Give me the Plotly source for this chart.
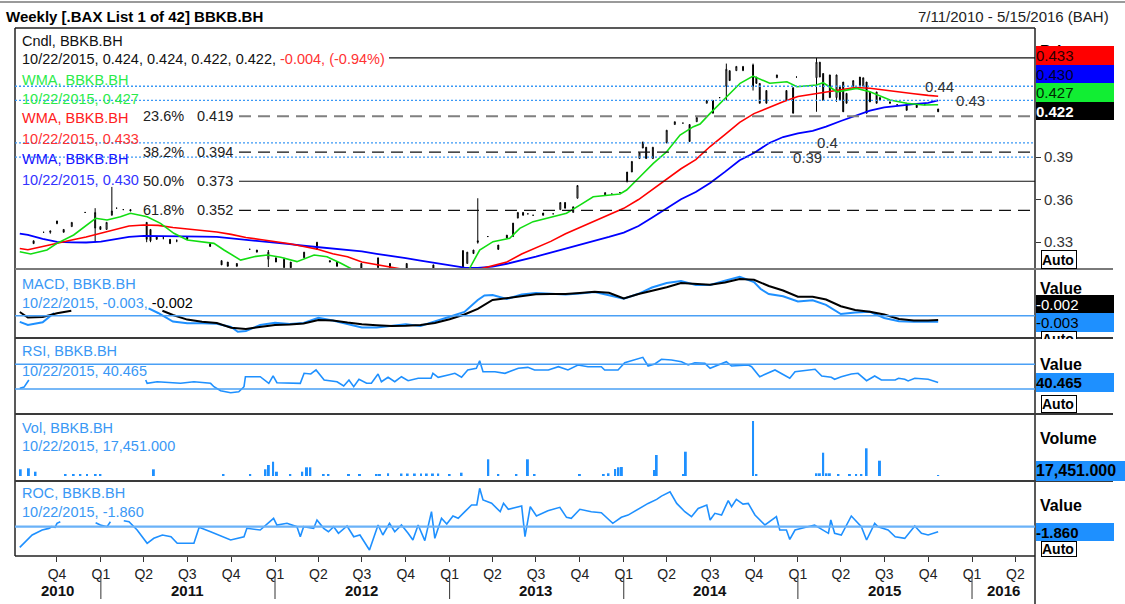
import plotly.graph_objects as go
from plotly.subplots import make_subplots

W, H = 1125, 604
FONT = "Liberation Sans, Arial, sans-serif"

# ---------------- text ----------------
title_left = "Weekly [.BAX List 1 of 42] BBKB.BH"
title_right = "7/11/2010 - 5/15/2016 (BAH)"
symbol = "BBKB.BH"
last_date = "10/22/2015"
last_ohlc = [0.424, 0.424, 0.422, 0.422]
last_change = -0.004
last_change_pct = -0.94

# ---------------- moving averages (monthly readings) ----------------
wma_dates = ['2010-07-15'] + [f'{y}-{m:02d}-01' for y in range(2010, 2016) for m in range(1, 13)
                              if '2010-08' <= f'{y}-{m:02d}' <= '2015-10'] + ['2015-10-22']
wma_long = [0.3361, 0.3351, 0.3324, 0.3303, 0.3299, 0.3298,
            0.3304, 0.3321, 0.3337, 0.3344, 0.3344, 0.3344, 0.3342, 0.3340, 0.3337, 0.3328, 0.3317, 0.3306,
            0.3296, 0.3286, 0.3275, 0.3265, 0.3256, 0.3245, 0.3235, 0.3218, 0.3205, 0.3188, 0.3170, 0.3153,
            0.3135, 0.3121, 0.3119, 0.3128, 0.3148, 0.3172, 0.3198, 0.3227, 0.3255, 0.3278, 0.3306, 0.3337,
            0.3368, 0.3414, 0.3472, 0.3536, 0.3603, 0.3654, 0.3718, 0.3796, 0.3878, 0.3929, 0.3998, 0.4042,
            0.4067, 0.4086, 0.4115, 0.4155, 0.4192, 0.4228, 0.4251, 0.4264, 0.4274, 0.4283, 0.4300]
wma_mid = [0.3256, 0.3247, 0.3270, 0.3294, 0.3315, 0.3337,
           0.3363, 0.3390, 0.3414, 0.3421, 0.3419, 0.3404, 0.3393, 0.3383, 0.3372, 0.3355, 0.3333, 0.3319,
           0.3305, 0.3289, 0.3270, 0.3248, 0.3218, 0.3197, 0.3160, 0.3141, 0.3124, 0.3104, 0.3083, 0.3069,
           0.3069, 0.3086, 0.3107, 0.3132, 0.3160, 0.3217, 0.3261, 0.3306, 0.3359, 0.3404, 0.3450, 0.3493,
           0.3539, 0.3601, 0.3670, 0.3744, 0.3818, 0.3883, 0.3975, 0.4059, 0.4145, 0.4207, 0.4250, 0.4291,
           0.4328, 0.4343, 0.4357, 0.4374, 0.4391, 0.4386, 0.4372, 0.4359, 0.4347, 0.4336, 0.4330]

short_dates = ['2010-07-15', '2010-08-07', '2010-09-10', '2010-10-01', '2010-11-05', '2010-12-03', '2010-12-21',
               '2011-01-14', '2011-02-11', '2011-03-04', '2011-04-08', '2011-05-06', '2011-06-03', '2011-07-01',
               '2011-08-26', '2011-09-16', '2011-10-21', '2011-11-18', '2011-12-16', '2012-01-13', '2012-02-16',
               '2012-03-23', '2012-04-19', '2012-05-18', '2012-06-14', '2012-08-01', '2012-11-01', '2013-01-15',
               '2013-02-12', '2013-03-05', '2013-04-02', '2013-05-07', '2013-05-28', '2013-06-25', '2013-08-06',
               '2013-09-03', '2013-10-01', '2013-10-29', '2013-12-24', '2014-01-07', '2014-02-04', '2014-03-04',
               '2014-04-01', '2014-04-29', '2014-05-27', '2014-06-10', '2014-07-01', '2014-08-05', '2014-09-02',
               '2014-09-29', '2014-11-03', '2014-12-09', '2014-12-30', '2015-02-09', '2015-02-23', '2015-03-24',
               '2015-05-04', '2015-06-01', '2015-07-13', '2015-08-17', '2015-09-21', '2015-10-22']
wma_short = [0.3233, 0.3217, 0.3245, 0.3292, 0.3351, 0.3421, 0.3469,
             0.3457, 0.3480, 0.3504, 0.3480, 0.3433, 0.3363, 0.3316,
             0.3292, 0.3245, 0.3174, 0.3198, 0.3210, 0.3194, 0.3163,
             0.3210, 0.3198, 0.3151, 0.3104, 0.3060, 0.3040, 0.3050,
             0.3116, 0.3245, 0.3304, 0.3328, 0.3398, 0.3445, 0.3480,
             0.3504, 0.3562, 0.3621, 0.3640, 0.3668, 0.3762, 0.3856,
             0.3938, 0.4056, 0.4115, 0.4134, 0.4209, 0.4326, 0.4421,
             0.4472, 0.4421, 0.4432, 0.4397, 0.4409, 0.4425, 0.4361,
             0.4385, 0.4361, 0.4303, 0.4280, 0.4268, 0.4270]

# ---------------- weekly candles ----------------
cdl_dates = ['2010-08-13', '2010-09-03', '2010-09-17', '2010-10-01', '2010-10-15', '2010-11-01', '2010-11-29', '2010-12-20', '2010-12-31', '2011-01-13',
             '2011-01-24', '2011-02-03', '2011-02-17', '2011-03-04', '2011-04-07', '2011-04-15', '2011-04-28', '2011-05-12', '2011-05-26', '2011-06-09',
             '2011-07-01', '2011-08-18', '2011-09-11', '2011-09-24', '2011-10-13', '2011-11-09', '2011-11-24', '2011-12-18', '2012-01-03', '2012-01-20',
             '2012-02-03', '2012-03-02', '2012-03-29', '2012-04-25', '2012-05-10', '2012-06-30', '2012-08-04', '2012-08-29', '2012-10-03', '2012-11-28',
             '2013-01-29', '2013-02-07', '2013-02-20', '2013-03-01', '2013-03-22', '2013-04-13', '2013-05-01', '2013-05-14', '2013-05-24', '2013-06-04',
             '2013-06-14', '2013-06-25', '2013-07-16', '2013-08-06', '2013-08-21', '2013-08-31', '2013-09-17', '2013-09-26', '2013-11-23', '2013-12-07',
             '2013-12-24', '2014-01-08', '2014-01-18', '2014-02-03', '2014-02-10', '2014-02-17', '2014-03-03', '2014-04-01', '2014-04-18', '2014-05-05',
             '2014-05-19', '2014-06-03', '2014-06-24', '2014-07-07', '2014-07-21', '2014-08-04', '2014-08-11', '2014-08-25', '2014-09-08', '2014-09-29',
             '2014-10-06', '2014-10-13', '2014-10-27', '2014-11-18', '2014-12-08', '2014-12-22', '2014-12-29', '2015-02-09', '2015-02-16', '2015-02-23',
             '2015-03-09', '2015-03-23', '2015-03-30', '2015-04-06', '2015-04-13', '2015-04-27', '2015-05-11', '2015-05-18', '2015-05-25', '2015-06-01',
             '2015-06-15', '2015-06-22', '2015-07-13', '2015-07-28', '2015-08-17', '2015-09-07', '2015-09-24', '2015-10-22']
cdl_open = [.331, .337, .337, .343, .339, .341, .351, .340, .341, .339,
            .349, .354, .353, .353, .344, .339, .334, .333, .332, .331,
            .334, .329, .317, .316, .315, .325, .3245, .318, .319, .312,
            .316, .319, .325, .317, .316, .315, .312, .315, .315, .314,
            .3125, .315, .3245, .331, .334, .328, .335, .334, .347, .351,
            .350, .349, .3506, .350, .353, .358, .351, .361, .363, .364,
            .365, .3725, .3795, .389, .3964, .397, .389, .400, .413, .414,
            .413, .415, .428, .430, .432, .440, .451, .451, .451, .440,
            .4465, .442, .437, .446, .437, .439, .4465, .446, .4465, .449,
            .448, .432, .440, .443, .435, .440, .4465, .440, .443, .436,
            .436, .432, .429, .427, .428, .427, .427, .424]
cdl_high = [.331, .337, .338, .345, .339, .344, .351, .354, .341, .344,
            .369, .354, .353, .353, .344, .339, .334, .334, .332, .332,
            .334, .329, .317, .316, .315, .325, .3245, .3245, .319, .319,
            .316, .323, .330, .317, .316, .315, .319, .315, .315, .314,
            .3245, .323, .3245, .361, .334, .328, .335, .3435, .351, .351,
            .350, .349, .3506, .350, .358, .358, .355, .370, .365, .364,
            .365, .3795, .387, .393, .4007, .397, .397, .409, .415, .414,
            .413, .418, .430, .430, .432, .456, .451, .454, .454, .456,
            .4465, .442, .437, .448, .437, .439, .4465, .460, .457, .449,
            .448, .448, .440, .443, .435, .444, .4465, .446, .443, .436,
            .436, .432, .429, .427, .428, .427, .427, .424]
cdl_low = [.329, .337, .336, .343, .337, .341, .351, .330, .339, .339,
           .349, .354, .353, .352, .330, .330, .332, .332, .329, .330,
           .332, .327, .314, .313, .313, .325, .323, .3125, .316, .312,
           .312, .319, .3245, .316, .313, .310, .312, .312, .310, .310,
           .3125, .315, .322, .329, .334, .3245, .333, .334, .347, .349,
           .350, .349, .349, .350, .353, .354, .351, .361, .363, .364,
           .365, .3725, .3795, .389, .3964, .389, .389, .400, .413, .414,
           .401, .415, .428, .421, .432, .430, .444, .451, .451, .437,
           .442, .428, .428, .446, .430, .421, .4465, .422, .4465, .430,
           .432, .429, .430, .422, .428, .440, .439, .440, .421, .429,
           .428, .430, .428, .427, .423, .425, .427, .422]
cdl_close = [.329, .337, .338, .345, .337, .344, .351, .351, .339, .344,
             .352, .354, .353, .352, .332, .331, .332, .333, .329, .331,
             .332, .327, .314, .313, .313, .325, .323, .323, .316, .318,
             .312, .323, .330, .316, .313, .310, .319, .312, .310, .310,
             .324, .323, .322, .330, .334, .325, .333, .3435, .351, .349,
             .350, .349, .349, .350, .358, .354, .355, .370, .365, .364,
             .365, .3795, .387, .393, .4007, .389, .397, .409, .415, .414,
             .401, .418, .430, .421, .432, .452, .444, .454, .454, .455,
             .442, .428, .428, .448, .430, .421, .4465, .457, .457, .430,
             .432, .448, .430, .422, .428, .444, .439, .446, .421, .429,
             .428, .430, .428, .427, .423, .425, .427, .422]

# Fibonacci retracement and reference levels
fib_high, fib_low = 0.460, 0.286
fib_ratios = [0.0, 0.236, 0.382, 0.5, 0.618]
ref_levels = [0.44, 0.43, 0.40, 0.39]
ref_labels = ['0.44', '0.43', '0.4', '0.39']

# ---------------- MACD ----------------
macd_dates = ['2010-07-15', '2010-08-01', '2010-09-01', '2010-09-25', '2011-01-01',
              '2011-04-11', '2011-05-01', '2011-06-01', '2011-07-01', '2011-08-01', '2011-09-01', '2011-10-01', '2011-10-15', '2011-11-01', '2011-12-01',
              '2012-01-01', '2012-02-01', '2012-03-01', '2012-04-01', '2012-05-01', '2012-06-01', '2012-07-01', '2012-08-01', '2012-09-01', '2012-10-01', '2012-11-01', '2012-12-01',
              '2013-01-01', '2013-02-01', '2013-03-01', '2013-03-15', '2013-04-01', '2013-05-01', '2013-06-01', '2013-07-01', '2013-08-01', '2013-09-01', '2013-10-01', '2013-11-01', '2013-12-01',
              '2014-01-01', '2014-02-01', '2014-03-01', '2014-04-01', '2014-05-01', '2014-06-01', '2014-07-01', '2014-08-01', '2014-09-01', '2014-10-01', '2014-10-15', '2014-11-01', '2014-12-01',
              '2015-01-01', '2015-02-01', '2015-03-01', '2015-04-01', '2015-05-01', '2015-06-01', '2015-07-01', '2015-08-01', '2015-09-01', '2015-10-01', '2015-10-22']
macd_vals = [-0.0031, -0.00465, -0.00325, 0.00135, None,
             0.0037, 0.00135, -0.0029, -0.0038, -0.0038, -0.00405, -0.00565, -0.008, -0.00765, -0.00465,
             -0.00355, -0.00415, -0.00365, -0.0011, -0.0024, -0.0043, -0.00585, -0.00595, -0.00495, -0.00425, -0.00515, -0.003,
             -0.00055, 0.0019, 0.00785, 0.0101, 0.01035, 0.00835, 0.0106, 0.0114, 0.01095, 0.01055, 0.01115, 0.0118, 0.0102,
             0.00855, 0.01095, 0.0141, 0.01635, 0.01735, 0.01535, 0.01535, 0.01745, 0.0195, 0.01685, 0.01335, 0.01085, 0.0097,
             0.0071, 0.00775, 0.00545, 0.00085, 0.00155, 0.00195, -0.00115, -0.00275, -0.003, -0.003, -0.003]
sig_dates = ['2010-07-15', '2010-08-01', '2010-09-01', '2010-10-01', '2010-10-31', '2011-01-01',
             '2011-05-10', '2011-06-01', '2011-07-01', '2011-08-01', '2011-09-01', '2011-10-01', '2011-11-01', '2011-12-01',
             '2012-01-01', '2012-02-01', '2012-03-01', '2012-04-01', '2012-05-01', '2012-06-01', '2012-07-01', '2012-08-01', '2012-09-01', '2012-10-01', '2012-11-01', '2012-12-01',
             '2013-01-01', '2013-02-01', '2013-03-01', '2013-04-01', '2013-05-01', '2013-06-01', '2013-07-01', '2013-08-01', '2013-09-01', '2013-10-01', '2013-11-01', '2013-12-01',
             '2014-01-01', '2014-02-01', '2014-03-01', '2014-04-01', '2014-05-01', '2014-06-01', '2014-07-01', '2014-08-01', '2014-09-01', '2014-10-01', '2014-11-01', '2014-12-01',
             '2015-01-01', '2015-02-01', '2015-03-01', '2015-04-01', '2015-05-01', '2015-06-01', '2015-07-01', '2015-08-01', '2015-09-01', '2015-10-01', '2015-10-22']
sig_vals = [0.00185, -0.0009, -0.00065, 0.00125, 0.0025, None,
            0.0025, 0.00035, -0.00195, -0.00305, -0.00365, -0.00605, -0.0066, -0.00565,
            -0.00465, -0.00435, -0.0039, -0.00215, -0.0024, -0.00345, -0.0043, -0.0048, -0.00515, -0.005, -0.00465, -0.00365,
            -0.00175, 0.0006, 0.00345, 0.00785, 0.00885, 0.00985, 0.0107, 0.01085, 0.01085, 0.01135, 0.012, 0.01145,
            0.0086, 0.01085, 0.01245, 0.01425, 0.01635, 0.01585, 0.0155, 0.0166, 0.01835, 0.01795, 0.01485, 0.0126,
            0.0095, 0.0095, 0.0081, 0.00475, 0.00285, 0.002, 0.0006, -0.00165, -0.00245, -0.00235, -0.0022]

# ---------------- RSI ----------------
rsi_dates = ['2010-07-15', '2010-07-24', '2010-08-03', '2010-12-01',
             '2011-04-05', '2011-04-08', '2011-04-29', '2011-06-17', '2011-07-15', '2011-08-19', '2011-08-26', '2011-09-09', '2011-09-30', '2011-10-17', '2011-10-28', '2011-10-31', '2011-12-01', '2011-12-19', '2011-12-28',
             '2012-01-05', '2012-02-23', '2012-03-02', '2012-03-16', '2012-03-27', '2012-04-13', '2012-05-10', '2012-05-24', '2012-06-04', '2012-06-14', '2012-06-25', '2012-07-11', '2012-07-21', '2012-08-04', '2012-08-11', '2012-08-25', '2012-09-08', '2012-09-22', '2012-10-06', '2012-10-27', '2012-11-23', '2012-11-27', '2012-12-08', '2012-12-29',
             '2013-01-12', '2013-01-26', '2013-02-08', '2013-02-26', '2013-03-05', '2013-03-12', '2013-04-06', '2013-04-27', '2013-05-25', '2013-06-14', '2013-06-28', '2013-07-27', '2013-08-17', '2013-09-06', '2013-09-27', '2013-10-18', '2013-11-15', '2013-11-22', '2013-12-20',
             '2014-01-03', '2014-01-24', '2014-02-10', '2014-02-21', '2014-03-07', '2014-03-21', '2014-04-11', '2014-05-02', '2014-05-16', '2014-05-30', '2014-06-20', '2014-07-01', '2014-07-18', '2014-08-04', '2014-08-15', '2014-09-19', '2014-09-26', '2014-10-13', '2014-11-14', '2014-12-15', '2014-12-26',
             '2015-02-06', '2015-02-20', '2015-03-12', '2015-03-19', '2015-04-02', '2015-04-23', '2015-05-07', '2015-05-25', '2015-06-11', '2015-06-25', '2015-07-24', '2015-07-31', '2015-08-13', '2015-08-20', '2015-09-03', '2015-10-01', '2015-10-22']
rsi_vals = [31.1, 33.0, 44.6, None,
            44.6, 39.2, 41.8, 39.2, 41.8, 39.2, 33.7, 27.2, 24.0, 25.6, 33.7, 49.9, 49.9, 39.2, 51.1,
            40.2, 39.2, 55.4, 54.3, 60.8, 44.6, 41.8, 34.9, 44.6, 33.7, 45.7, 39.2, 39.2, 54.3, 41.8, 49.0, 41.8, 49.9, 43.4, 47.3, 47.3, 55.4, 49.0, 52.7,
            55.4, 49.0, 60.8, 63.5, 75.8, 58.0, 58.0, 55.4, 63.5, 65.1, 60.8, 60.8, 66.1, 60.8, 68.9, 66.1, 66.1, 60.8, 60.8,
            72.6, 77.0, 81.3, 67.2, 70.5, 78.1, 77.0, 74.2, 68.9, 72.6, 71.6, 63.5, 68.9, 74.2, 67.2, 68.9, 66.1, 49.9, 60.8, 47.3, 58.0,
            61.9, 51.1, 49.0, 45.7, 49.9, 54.3, 55.4, 43.4, 51.1, 44.6, 44.6, 47.3, 45.7, 43.0, 47.3, 45.7, 40.465]
rsi_bands = [70, 30]

# ---------------- Volume ----------------
vol_dates = ['2010-07-17', '2010-08-03', '2010-08-17', '2010-10-19', '2010-11-05', '2010-11-19', '2010-12-03', '2010-12-21', '2010-12-31',
             '2011-04-22', '2011-09-15', '2011-11-10', '2011-12-12', '2011-12-19', '2011-12-28',
             '2012-01-05', '2012-02-02', '2012-02-27', '2012-03-08', '2012-03-15', '2012-04-12', '2012-04-22', '2012-06-04', '2012-06-27', '2012-08-01', '2012-08-08', '2012-08-25', '2012-09-22', '2012-10-05', '2012-10-20', '2012-11-02', '2012-11-14', '2012-11-27', '2012-12-08',
             '2013-01-01', '2013-01-26', '2013-03-23', '2013-04-13', '2013-05-21', '2013-06-14', '2013-06-28', '2013-10-01', '2013-11-20', '2013-11-30', '2013-12-14', '2013-12-21', '2013-12-28',
             '2014-03-07', '2014-03-11', '2014-05-06', '2014-05-11', '2014-09-29', '2014-10-06',
             '2015-02-09', '2015-02-16', '2015-02-23', '2015-03-02', '2015-03-09', '2015-03-27', '2015-04-20', '2015-05-03', '2015-05-14', '2015-05-25', '2015-06-22', '2015-10-22']
vol_vals = [134000, 154000, 86000, 40000, 40000, 40000, 40000, 40000, 40000,
            134000, 40000, 40000, 134000, 220000, 286000,
            86000, 40000, 86000, 174000, 174000, 40000, 40000, 40000, 40000, 40000, 40000, 54000, 50000, 50000, 50000, 50000, 50000, 50000, 50000,
            40000, 66000, 334000, 40000, 40000, 334000, 40000, 40000, 40000, 54000, 140000, 174000, 180000,
            120000, 420000, 40000, 486000, 1100000, 40000,
            54000, 54000, 466000, 54000, 54000, 40000, 40000, 40000, 40000, 554000, 306000, 17451]

# ---------------- ROC ----------------
roc_dates = ['2010-07-15', '2010-07-24', '2010-08-10', '2010-08-31', '2010-09-14', '2010-09-20', '2010-09-27', '2010-10-01', '2010-10-08',
             '2010-11-15',
             '2010-12-21', '2010-12-31', '2011-01-14', '2011-01-21',
             '2011-02-01',
             '2011-02-18', '2011-03-01', '2011-03-18', '2011-04-08', '2011-04-22', '2011-05-10', '2011-05-28', '2011-06-10', '2011-07-15', '2011-07-26', '2011-08-19', '2011-09-30', '2011-10-28', '2011-11-03', '2011-12-01', '2011-12-29',
             '2012-01-05', '2012-01-26', '2012-02-16', '2012-02-23', '2012-03-01', '2012-03-22', '2012-03-29', '2012-04-12', '2012-04-22', '2012-05-03', '2012-05-13', '2012-05-31', '2012-06-14', '2012-06-27', '2012-07-17', '2012-08-04', '2012-08-14', '2012-08-28', '2012-09-08', '2012-09-22', '2012-10-06', '2012-10-16', '2012-10-27', '2012-11-10', '2012-11-24', '2012-12-01', '2012-12-15', '2012-12-26',
             '2013-01-08', '2013-01-19', '2013-02-02', '2013-02-16', '2013-02-27', '2013-03-05', '2013-03-12', '2013-03-30', '2013-04-17', '2013-04-24', '2013-05-04', '2013-06-01', '2013-06-08', '2013-06-19', '2013-07-02', '2013-07-26', '2013-08-20', '2013-09-03', '2013-09-13', '2013-10-01', '2013-10-25', '2013-11-15', '2013-12-09', '2013-12-27',
             '2014-01-10', '2014-02-07', '2014-02-21', '2014-03-11', '2014-03-21', '2014-04-08', '2014-04-22', '2014-05-09', '2014-05-23', '2014-06-06', '2014-06-24', '2014-07-01', '2014-07-11', '2014-07-25', '2014-08-08', '2014-08-15', '2014-08-25', '2014-09-08', '2014-09-19', '2014-10-03', '2014-10-24', '2014-11-17', '2014-11-24', '2014-12-08', '2014-12-15', '2014-12-26',
             '2015-02-05', '2015-03-06', '2015-03-11', '2015-03-19', '2015-04-02', '2015-04-23', '2015-05-14', '2015-05-25', '2015-06-11', '2015-06-18', '2015-07-09', '2015-07-24', '2015-08-13', '2015-09-03', '2015-09-17', '2015-10-01', '2015-10-22']
roc_vals = [-7.66, -6.17, -3.09, -1.25, -0.63, 0.0, -0.22, 1.26, 1.86,
            None,
            1.49, 0.63, 0.0, 1.86,
            None,
            2.23, 1.86, -1.23, -6.17, -4.31, -3.09, -3.72, -6.17, -6.17, -0.22, -1.86, -4.94, -3.72, -0.59, -1.23, 3.12,
            0.63, 1.26, 0.0, -3.72, 0.0, -0.59, 2.49, -0.59, -1.86, 0.0, -2.46, 0.26, -3.72, -3.09, -8.66, 0.63, -3.09, 1.26, -1.86, 0.63, -2.46, -4.94, 0.63, -5.17, 5.58, -4.31, 3.12, 1.00,
            3.98, 3.12, 5.58, 8.07, 8.07, 14.27, 9.93, 8.70, 5.58, 8.70, 6.47, 7.69, -3.72, 7.43, 3.98, 5.95, 7.21, 3.49, 3.12, 6.47, 5.58, 5.20, 1.26, 3.49,
            4.31, 7.17, 8.66, 10.15, 11.38, 12.97, 8.66, 5.58, 3.72, 6.81, 8.07, 2.49, 4.98, 4.35, 9.67, 7.43, 10.15, 8.40, 8.66, 4.35, 0.63, 3.72, -1.23, -1.23, -4.72, -1.23,
            0.63, -2.46, 2.49, -2.46, -3.09, 3.98, 0.0, -4.94, 1.26, 0.0, -1.23, -3.72, -4.35, 0.26, -2.46, -3.09, -1.86]

# ---------------- axis labels ----------------
quarter_ticks = ['2010-10-01', '2011-01-01', '2011-04-01', '2011-07-01', '2011-10-01', '2012-01-01', '2012-04-01', '2012-07-01',
                 '2012-10-01', '2013-01-01', '2013-04-01', '2013-07-01', '2013-10-01', '2014-01-01', '2014-04-01', '2014-07-01',
                 '2014-10-01', '2015-01-01', '2015-04-01', '2015-07-01', '2015-10-01', '2016-01-01', '2016-04-01']
quarter_labels = ['Q4', 'Q1', 'Q2', 'Q3', 'Q4', 'Q1', 'Q2', 'Q3', 'Q4', 'Q1', 'Q2', 'Q3', 'Q4', 'Q1', 'Q2', 'Q3',
                  'Q4', 'Q1', 'Q2', 'Q3', 'Q4', 'Q1', 'Q2']
year_labels = ['2010', '2011', '2012', '2013', '2014', '2015', '2016']
year_centers = ['2010-10-03', '2011-07-02', '2012-07-01', '2013-07-01', '2014-07-01', '2015-07-01', '2016-03-07']
year_starts = ['2011-01-01', '2012-01-01', '2013-01-01', '2014-01-01', '2015-01-01', '2016-01-01']
x_range = ['2010-07-05', '2016-05-12']

# ---------------- colours ----------------
C_GREEN, C_RED, C_BLUE = '#12DD12', '#FF0000', '#0000FF'
C_IND = '#1E90FF'
C_IND_TXT = '#3A98F5'

# =====================================================================
fig = make_subplots(rows=5, cols=1, shared_xaxes=True, vertical_spacing=0.0)

fig.add_trace(go.Scatter(x=wma_dates, y=wma_long, mode='lines', line=dict(color=C_BLUE, width=1.8)), row=1, col=1)
fig.add_trace(go.Scatter(x=wma_dates, y=wma_mid, mode='lines', line=dict(color=C_RED, width=1.6)), row=1, col=1)
fig.add_trace(go.Scatter(x=short_dates, y=wma_short, mode='lines', line=dict(color=C_GREEN, width=1.6)), row=1, col=1)
fig.add_trace(go.Candlestick(x=cdl_dates, open=cdl_open, high=cdl_high, low=cdl_low, close=cdl_close,
                             increasing=dict(line=dict(color='black', width=1), fillcolor='white'),
                             decreasing=dict(line=dict(color='black', width=1), fillcolor='black'),
                             whiskerwidth=0), row=1, col=1)

fig.add_trace(go.Scatter(x=macd_dates, y=macd_vals, mode='lines', line=dict(color=C_IND, width=2)), row=2, col=1)
fig.add_trace(go.Scatter(x=sig_dates, y=sig_vals, mode='lines', line=dict(color='black', width=2)), row=2, col=1)
fig.add_trace(go.Scatter(x=rsi_dates, y=rsi_vals, mode='lines', line=dict(color=C_IND, width=1.6)), row=3, col=1)
fig.add_trace(go.Bar(x=vol_dates, y=vol_vals, marker=dict(color=C_IND, line=dict(width=0)), width=3.6e8), row=4, col=1)
fig.add_trace(go.Scatter(x=roc_dates, y=roc_vals, mode='lines', line=dict(color=C_IND, width=1.6)), row=5, col=1)

panels = [(28, 269), (269, 338), (338, 414), (414, 481), (481, 556)]
yranges = [[0.3111, 0.4811], [-0.01115, 0.02335], [-10.5, 112.6], [-100000, 1240000], [-10.89, 16.99]]
for i, (a, b) in enumerate(panels):
    n = '' if i == 0 else str(i + 1)
    fig.layout['yaxis' + n].update(domain=[1 - b / H, 1 - a / H], range=yranges[i], showgrid=False,
                                   zeroline=False, showticklabels=False, showline=False, ticks='')
    fig.layout['xaxis' + n].update(domain=[15 / W, 1035 / W], range=x_range, showgrid=False, zeroline=False,
                                   showticklabels=False, showline=False, ticks='', rangeslider=dict(visible=False),
                                   type='date')

fig.layout.yaxis.update(side='right', showticklabels=True, tickvals=[0.33, 0.36, 0.39],
                        ticktext=['0.33', '0.36', '0.39'], ticks='outside', ticklen=5, tickcolor='#333',
                        tickfont=dict(family=FONT, size=15, color='#333'))
fig.layout.xaxis5.update(showticklabels=True, tickvals=quarter_ticks, ticktext=quarter_labels, ticks='outside',
                         ticklen=5, tickcolor='#333', tickfont=dict(family=FONT, size=14, color='#222'))

# ---------------- shapes ----------------
shapes = []


def hline_px(y, x0, x1, color, width, dash='solid'):
    shapes.append(dict(type='line', xref='paper', yref='paper', x0=x0 / W, x1=x1 / W, y0=1 - y / H, y1=1 - y / H,
                       line=dict(color=color, width=width, dash=dash)))


def vline_px(x, y0, y1, color, width):
    shapes.append(dict(type='line', xref='paper', yref='paper', x0=x / W, x1=x / W, y0=1 - y0 / H, y1=1 - y1 / H,
                       line=dict(color=color, width=width)))


def hline_val(v, yref, x0, x1, color, width, dash='solid'):
    shapes.append(dict(type='line', xref='paper', yref=yref, x0=x0 / W, x1=x1 / W, y0=v, y1=v,
                       line=dict(color=color, width=width, dash=dash)))


# frame
hline_px(2, 0, 1125, '#9a9a9a', 2)
hline_px(28, 15, 1035, '#222', 1.5)
vline_px(15, 28, 556, '#222', 1.5)
vline_px(1035, 28, 604, '#222', 1.5)
hline_px(269, 15, 1113, '#7a7a7a', 2)
for yy in (338, 414, 481):
    hline_px(yy, 15, 1113, '#3a3a3a', 2)
hline_px(556, 15, 1035, '#222', 1.5)

# fibonacci
fib_vals = [fib_high - r * (fib_high - fib_low) for r in fib_ratios]
hline_val(fib_vals[0], 'y', 389, 1035, '#111', 1.2)
hline_val(fib_vals[1], 'y', 239, 1035, '#808080', 2, '12px,7px')
hline_val(fib_vals[2], 'y', 239, 1035, '#111', 1.3, '12px,7px')
hline_val(fib_vals[3], 'y', 239, 1035, '#111', 1.2)
hline_val(fib_vals[4], 'y', 239, 1035, '#111', 1.3, '12px,7px')

# dotted reference levels
for v in ref_levels:
    hline_val(v, 'y', 15, 1035, '#3A98F5', 1.3, '2px,2px')

# indicator reference lines
hline_val(0, 'y2', 15, 1035, '#4AA0F5', 1.5)
for v in rsi_bands:
    hline_val(v, 'y3', 15, 1035, '#4AA0F5', 1.5)
hline_val(0, 'y5', 15, 1035, '#6AB2F8', 2.2)

# year separators
for d in year_starts:
    shapes.append(dict(type='line', xref='x5', yref='paper', x0=d, x1=d, y0=1 - 577 / H, y1=1 - 599 / H,
                       line=dict(color='#333', width=1)))

# ---------------- annotations ----------------
anns = []


def label(text, x, y, color='#000', size=14.5, bold=False, xanchor='left', yref='paper'):
    anns.append(dict(xref='paper', yref=yref, x=x / W, y=(1 - y / H) if yref == 'paper' else y,
                     xanchor=xanchor, yanchor='middle', text=f'<b>{text}</b>' if bold else text,
                     showarrow=False, font=dict(family=FONT, size=size, color=color)))


def box(text, y0, y1, bg, fg, bold=False, width=78, x0=1035.5, border=None, size=15):
    anns.append(dict(xref='paper', yref='paper', x=x0 / W, y=1 - (y0 + y1) / 2 / H, xanchor='left',
                     yanchor='middle', width=width, height=y1 - y0, text=f'<b>{text}</b>' if bold else text,
                     showarrow=False, bgcolor=bg, align='left', valign='middle', borderpad=0,
                     bordercolor=border or bg, borderwidth=1 if border else 0,
                     font=dict(family=FONT, size=size, color=fg)))


label(title_left, 4, 16, '#000', 15, True)
label(title_right, 1111, 16, '#222', 15, False, 'right')

# price panel legend
o, h_, l_, c = last_ohlc
label(f'Cndl, {symbol}', 20, 41, '#111')
label(f"{last_date}, {o:.3f}, {h_:.3f}, {l_:.3f}, {c:.3f}, "
      f"<span style='color:#FF3333'>{last_change:.3f}, ({last_change_pct:.2f}%)</span>", 20, 59, '#111')
label(f'WMA, {symbol}', 20, 80, '#2BEB4A')
label(f'{last_date}, {wma_short[-1]:.3f}', 20, 99.5, '#2BEB4A')
label(f'WMA, {symbol}', 20, 118.5, '#FF2020')
label(f'{last_date}, {wma_mid[-1]:.3f}', 20, 139, '#FF3333')
label(f'WMA, {symbol}', 20, 159, '#1515FF')
label(f'{last_date}, {wma_long[-1]:.3f}', 20, 180, '#3333FF')

# fib labels
for r, v in zip(fib_ratios[1:], fib_vals[1:]):
    label(f'{r * 100:.1f}%', 141, v, '#222', 14.5, yref='y')
    label(f'{v:.3f}', 195, v, '#222', 14.5, yref='y')

# reference labels
ref_x = [939, 970, 827, 807]
for v, t, xx in zip(ref_levels, ref_labels, ref_x):
    label(t, xx, v, '#333', 15, xanchor='center', yref='y')

# lower panel legends
sig_last = f'{sig_vals[-1]:.3f}'
label(f'MACD, {symbol}', 20, 284, C_IND_TXT)
label(f"{last_date}, {macd_vals[-1]:.3f}, <span style='color:#000'>{sig_last}</span>", 20, 303, C_IND_TXT)
label(f'RSI, {symbol}', 20, 351, C_IND_TXT)
label(f'{last_date}, {rsi_vals[-1]:.3f}', 20, 370.5, C_IND_TXT)
label(f'Vol, {symbol}', 20, 427.5, C_IND_TXT)
label(f'{last_date}, {vol_vals[-1]:,.3f}', 20, 446, C_IND_TXT)
label(f'ROC, {symbol}', 20, 493, C_IND_TXT)
label(f'{last_date}, {roc_vals[-1]:.3f}', 20, 512, C_IND_TXT)

# right-side value boxes
label('Price', 1038, 51, '#000', 16, True)
box(f'{wma_mid[-1]:.3f}', 46.5, 65, '#FF0000', '#2a0000')
box(f'{wma_long[-1]:.3f}', 65, 83.5, '#0000FF', '#00002a')
box(f'{wma_short[-1]:.3f}', 83.5, 102.3, '#11EE33', '#002a00')
box(f'{c:.3f}', 102.3, 120.7, '#000000', '#FFFFFF', True)
box('Auto', 251, 268, '#FFFFFF', '#000', True, 34, 1041, '#000', 14)

label('Value', 1038, 289, '#000', 16, True)
box(sig_last, 295, 313, '#000000', '#FFFFFF')
box(f'{macd_vals[-1]:.3f}', 313.5, 332, C_IND, '#000')
box('Auto', 332, 346, '#FFFFFF', '#000', True, 34, 1041, '#000', 14)
box('', 339.5, 356, '#FFFFFF', '#FFF', False, 80, 1036.5)

label('Value', 1038, 364, '#000', 16, True)
box(f'{rsi_vals[-1]:.3f}', 373, 392, C_IND, '#000', True)
box('Auto', 396, 412, '#FFFFFF', '#000', True, 34, 1041, '#000', 14)

label('Volume', 1038, 438, '#000', 16, True)
box(f'{vol_vals[-1]:,.3f}', 461, 480.5, C_IND, '#000', True, 90, size=16)

label('Value', 1038, 505, '#000', 16, True)
box(f'{roc_vals[-1]:.3f}', 523, 541, C_IND, '#000', True)
box('Auto', 541.5, 555.5, '#FFFFFF', '#000', True, 34, 1041, '#000', 14)

# year labels
for t, d in zip(year_labels, year_centers):
    anns.append(dict(xref='x5', yref='paper', x=d, y=1 - 590 / H, xanchor='center', yanchor='middle',
                     text=f'<b>{t}</b>', showarrow=False, font=dict(family=FONT, size=15, color='#111')))

fig.update_layout(width=W, height=H, margin=dict(l=0, r=0, t=0, b=0), showlegend=False,
                  plot_bgcolor='white', paper_bgcolor='white', font=dict(family=FONT),
                  shapes=shapes, annotations=anns, hovermode=False, boxgap=0.6)

fig.write_html("out.html", include_plotlyjs=True, config={'displayModeBar': False},
               post_script="document.body.style.margin='0';document.body.style.overflow='hidden';")
